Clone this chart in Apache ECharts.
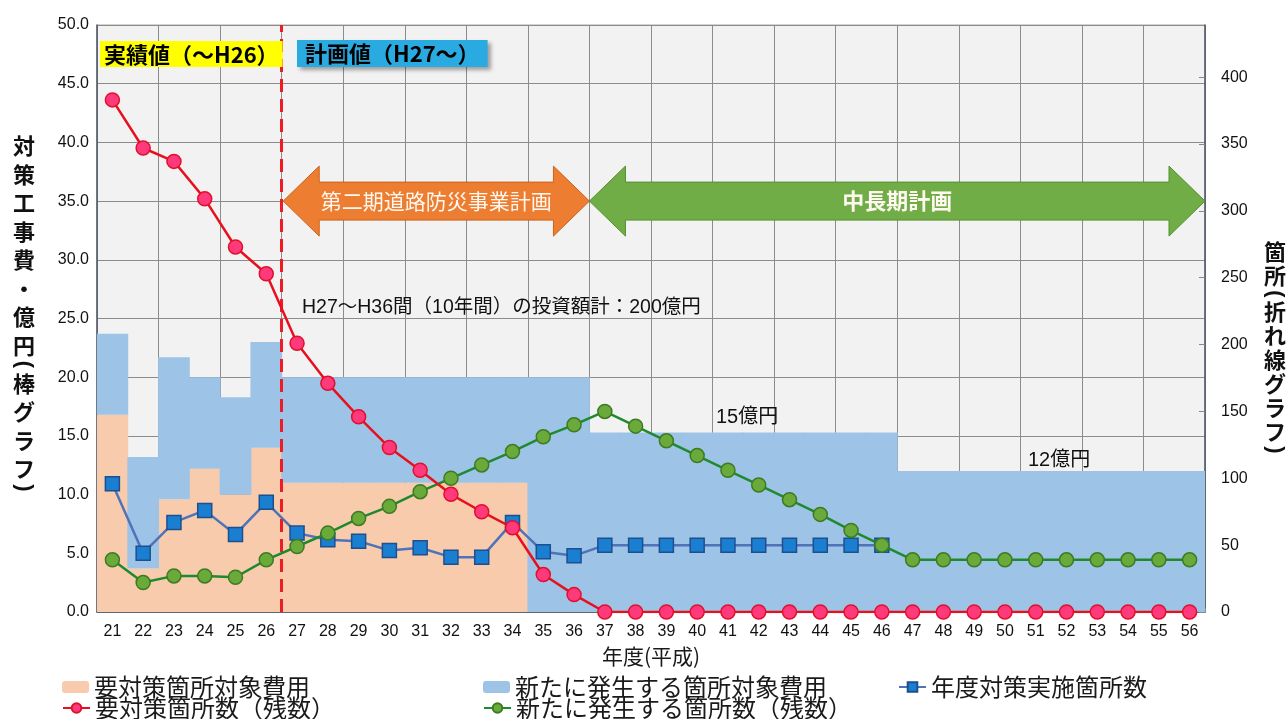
<!DOCTYPE html>
<html><head><meta charset="utf-8">
<script src="https://cdn.jsdelivr.net/npm/echarts@6/dist/echarts.min.js"></script>
<style>html,body{margin:0;padding:0;background:#fff}#c{width:1288px;height:719px}</style>
</head><body><div id="c"></div>
<script>
// ---- data ----
const years = ['21','22','23','24','25','26','27','28','29','30','31','32','33','34','35','36','37','38','39','40','41','42','43','44','45','46','47','48','49','50','51','52','53','54','55','56'];
const costExisting = [16.8,3.7,9.6,12.2,10.0,14.0,11,11,11,11,11,11,11,11,0,0,0,0,0,0,0,0,0,0,0,0,0,0,0,0,0,0,0,0,0,0];
const costNew = [6.9,9.5,12.1,7.8,8.3,9.0,9,9,9,9,9,9,9,9,20,20,15.3,15.3,15.3,15.3,15.3,15.3,15.3,15.3,15.3,15.3,12,12,12,12,12,12,12,12,12,12];
const remainExisting = [383,347,337,309,273,253,201,171,146,123,106,88,75,63,28,13,0,0,0,0,0,0,0,0,0,0,0,0,0,0,0,0,0,0,0,0];
const remainNew = [39,22,27,27,26,39,49,59,70,79,90,100,110,120,131,140,150,139,128,117,106,95,84,73,61,50,39,39,39,39,39,39,39,39,39,39];
const annualCount = [96,44,67,76,58,82,59,54,53,46,48,41,41,67,45,42,50,50,50,50,50,50,50,50,50,50,null,null,null,null,null,null,null,null,null,null];
const leftAxis = {min: 0, max: 50, interval: 5};
const rightAxis = {min: 0, max: 439, interval: 50};
const gridAxis = {min: 20.5, max: 56.5, interval: 2};
const dividerYear = 26.5;
const arrowStart = [26.55, 36.5];
const arrowEnd = [36.5, 56.5];
const arrowLevel = [35, 35];
const arrowText = ['第二期道路防災事業計画', '中長期計画'];
const arrowColor = ['#ed7d31', '#70ad47'];
const arrowEdge = ['#c8641f', '#55902f'];
const arrowFont = ['21px', 'bold 22px'];

const names = {
  costExisting: '要対策箇所対象費用',
  costNew: '新たに発生する箇所対象費用',
  annual: '年度対策実施箇所数',
  remainExisting: '要対策箇所数（残数）',
  remainNew: '新たに発生する箇所数（残数）'
};
const leftTitle = '対策工事費・億円(棒グラフ)';
const rightTitle = '箇所(折れ線グラフ)';

const CJK = "'Noto Sans CJK JP', 'Liberation Sans', sans-serif";
const MIX = "'Liberation Sans', 'Noto Sans CJK JP', sans-serif";

const arrowData = arrowStart.map((s, i) => [s, arrowEnd[i], arrowLevel[i]]);

// vertical stacked title characters; parentheses rotated like vertical forms
function verticalTitle(text, cx, y0, step, parenStep) {
  const els = [];
  let y = y0;
  const chars = Array.from(text);
  const isP = (c) => c === '(' || c === ')';
  chars.forEach((ch, i) => {
    if (i > 0) y += (isP(chars[i - 1]) || isP(ch)) ? parenStep : step;
    els.push({
      type: 'text', x: cx, y: y, z: 100, rotation: isP(ch) ? -Math.PI / 2 : 0,
      style: {text: ch, font: isP(ch) ? 'bold 22px ' + MIX : 'bold 22px ' + CJK, fill: '#111', align: 'center', verticalAlign: 'middle'}
    });
  });
  return els;
}

const chart = echarts.init(document.getElementById('c'));
const legendBase = {
  orient: 'horizontal', itemGap: 0, padding: 0, itemWidth: 27, itemHeight: 12,
  textStyle: {fontSize: 24, color: '#1a1a1a', fontFamily: CJK}
};
function lg(left, top, name) { return Object.assign({}, legendBase, {left: left, top: top, data: [name]}); }

chart.setOption({
  animation: false,
  backgroundColor: '#fff',
  grid: {left: 97, right: 83, top: 25, bottom: 107, show: true, backgroundColor: '#f2f2f2', borderColor: '#a6a6a6', borderWidth: 1},
  legend: [
    lg(62, 675, names.costExisting),
    lg(62, 696, names.remainExisting),
    lg(483, 675, names.costNew),
    lg(483, 696, names.remainNew),
    lg(898, 675, names.annual)
  ],
  xAxis: [
    {
      type: 'category', data: years, boundaryGap: true,
      name: '年度(平成)', nameLocation: 'middle', nameGap: 34,
      nameTextStyle: {fontSize: 21, color: '#1a1a1a', fontFamily: CJK},
      axisLine: {lineStyle: {color: '#505a68', width: 1.5}},
      axisTick: {show: false},
      axisLabel: {fontSize: 16, color: '#111', margin: 12, interval: 0, fontFamily: MIX},
      splitLine: {show: false}
    },
    {
      type: 'value', min: gridAxis.min, max: gridAxis.max, interval: gridAxis.interval, position: 'bottom',
      axisLine: {show: false}, axisLabel: {show: false},
      axisTick: {show: true, inside: true, length: 4, lineStyle: {color: '#888'}},
      splitLine: {show: true, lineStyle: {color: '#8c8c8c', width: 1}}
    }
  ],
  yAxis: [
    {
      type: 'value', min: leftAxis.min, max: leftAxis.max, interval: leftAxis.interval, position: 'left',
      axisLine: {show: true, lineStyle: {color: '#505a68', width: 1.5}},
      axisTick: {show: false},
      axisLabel: {fontSize: 16, color: '#111', margin: 8, fontFamily: MIX, formatter: (v) => v.toFixed(1)},
      splitLine: {show: true, lineStyle: {color: '#8c8c8c', width: 1}}
    },
    {
      type: 'value', min: rightAxis.min, max: rightAxis.max, interval: rightAxis.interval, position: 'right',
      axisLine: {show: true, lineStyle: {color: '#505a68', width: 1.5}},
      axisTick: {show: true, inside: true, length: 6, lineStyle: {color: '#888'}},
      axisLabel: {fontSize: 16, color: '#111', margin: 16, fontFamily: MIX, showMaxLabel: false,
        formatter: (v) => (v % 50 === 0 ? String(v) : '')},
      splitLine: {show: false}
    }
  ],
  series: [
    {
      name: names.costExisting, type: 'bar', stack: 'cost', data: costExisting, barCategoryGap: '-3%',
      itemStyle: {color: '#f8cbad'}, z: 2
    },
    {
      name: names.costNew, type: 'bar', stack: 'cost', data: costNew, barCategoryGap: '-3%',
      itemStyle: {color: '#9dc3e6'}, z: 2
    },
    {
      type: 'custom', xAxisIndex: 1, yAxisIndex: 0, data: arrowData, clip: false, z: 3,
      encode: {x: [0, 1], y: 2},
      renderItem: function (params, api) {
        const p0 = api.coord([api.value(0), api.value(2)]);
        const p1 = api.coord([api.value(1), api.value(2)]);
        const cy = p0[1], bh = 19, hh = 35, hl = 36;
        const x0 = p0[0], x1 = p1[0];
        const i = params.dataIndex;
        return {
          type: 'group',
          children: [
            {type: 'polygon', shape: {points: [
              [x0, cy], [x0 + hl, cy - hh], [x0 + hl, cy - bh], [x1 - hl, cy - bh], [x1 - hl, cy - hh],
              [x1, cy], [x1 - hl, cy + hh], [x1 - hl, cy + bh], [x0 + hl, cy + bh], [x0 + hl, cy + hh]
            ]}, style: {fill: arrowColor[i], stroke: arrowEdge[i], lineWidth: 1}},
            {type: 'text', x: (x0 + x1) / 2, y: cy, style: {text: arrowText[i], fill: '#fff8f0',
              font: arrowFont[i] + ' ' + CJK, align: 'center', verticalAlign: 'middle'}}
          ]
        };
      },
      markLine: {
        silent: true, symbol: 'none', label: {show: false},
        lineStyle: {color: '#ee1c25', type: [13, 7], width: 3},
        data: [{xAxis: dividerYear}]
      }
    },
    {
      name: names.annual, type: 'line', yAxisIndex: 1, data: annualCount, z: 4,
      symbol: 'rect', symbolSize: 14,
      lineStyle: {color: '#4f72b8', width: 2.5},
      itemStyle: {color: '#1a7fd0', borderColor: '#1d4f8f', borderWidth: 1.5}
    },
    {
      name: names.remainNew, type: 'line', yAxisIndex: 1, data: remainNew, z: 5,
      symbol: 'circle', symbolSize: 14,
      lineStyle: {color: '#1e8a2e', width: 2.5},
      itemStyle: {color: '#6aaa3a', borderColor: '#3d7a22', borderWidth: 1.5}
    },
    {
      name: names.remainExisting, type: 'line', yAxisIndex: 1, data: remainExisting, z: 6,
      symbol: 'circle', symbolSize: 14,
      lineStyle: {color: '#e8101e', width: 2.5},
      itemStyle: {color: '#ff3a7c', borderColor: '#e0102a', borderWidth: 1.5}
    }
  ],
  graphic: [
    {type: 'text', left: 100, top: 41, z: 100, style: {text: '実績値（～H26）', font: 'bold 22px ' + CJK, fill: '#000',
      backgroundColor: '#ffff00', padding: [3, 4, 1, 4]}},
    {type: 'text', left: 297, top: 40, z: 100, style: {text: '計画値（H27～）', font: 'bold 22px ' + CJK, fill: '#000',
      backgroundColor: '#29abe2', padding: [3, 8, 2, 8], shadowColor: 'rgba(0,0,0,0.35)', shadowBlur: 4, shadowOffsetX: 3, shadowOffsetY: 3}},
    {type: 'text', left: 302, top: 298, z: 100, style: {text: 'H27～H36間（10年間）の投資額計：200億円', font: '19.5px ' + MIX, fill: '#111'}},
    {type: 'text', left: 716, top: 407, z: 100, style: {text: '15億円', font: '20px ' + MIX, fill: '#111'}},
    {type: 'text', left: 1028, top: 450, z: 100, style: {text: '12億円', font: '20px ' + MIX, fill: '#111'}}
  ].concat(verticalTitle(leftTitle, 24, 146, 28.5, 19), verticalTitle(rightTitle, 1275, 252, 24, 18))
});
</script></body></html>
